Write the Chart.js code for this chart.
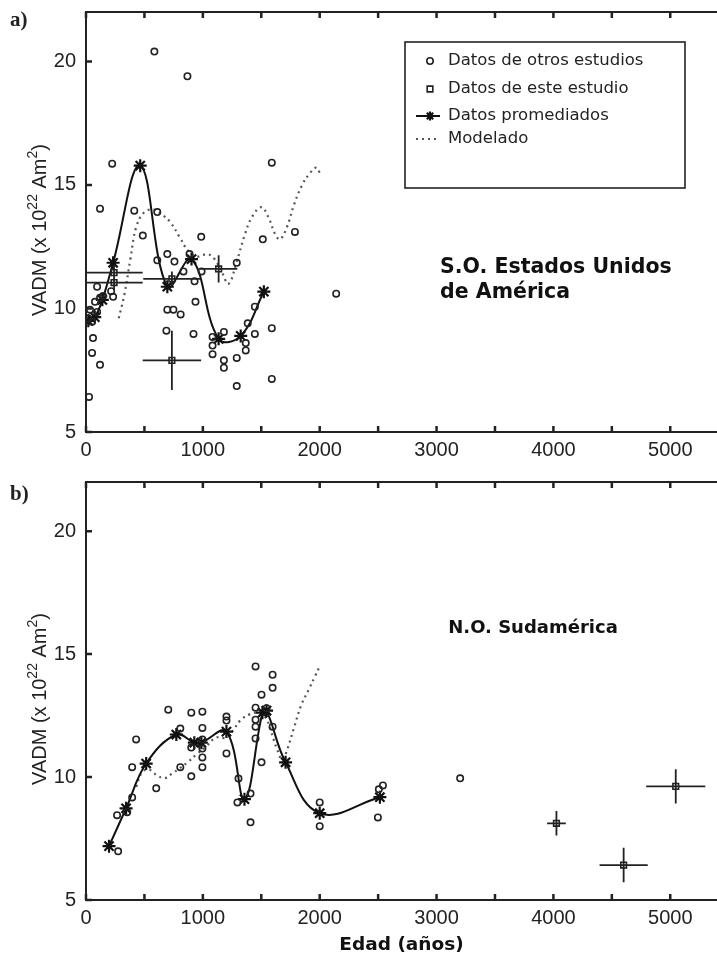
<!DOCTYPE html>
<html>
<head>
<meta charset="utf-8">
<script src="https://cdn.jsdelivr.net/npm/chart.js@4/dist/chart.umd.min.js"></script>
<style>
  body { margin: 0; background: #fff; width: 717px; height: 960px; position: relative; overflow: hidden; }
  .panel { position: absolute; left: 0; width: 717px; }
  #boxA { top: 0; height: 465px; }
  #boxB { top: 470px; height: 490px; }
  .tag { position: absolute; left: 10px; font: bold 21px "Liberation Serif", serif; color: #222; }
</style>
</head>
<body>
<div class="panel" id="boxA"><canvas id="chartA"></canvas></div>
<div class="panel" id="boxB"><canvas id="chartB"></canvas></div>
<div class="tag" style="top:7px">a)</div>
<div class="tag" style="top:481px">b)</div>
<script>
// axis ticks
const xLabels = [0, 1000, 2000, 3000, 4000, 5000];
const xMarks = [0, 500, 1000, 1500, 2000, 2500, 3000, 3500, 4000, 4500, 5000];
const yLabels = [5, 10, 15, 20];

const names = ["Datos de otros estudios", "Datos de este estudio", "Datos promediados", "Modelado"];
// y title pieces: [text, superscript?]
const yTitle = [["VADM (x 10", false], ["22", true], [" Am", false], ["2", true], [")", false]];

/* ------------------------------
   a) S.O. Estados Unidos
------------------------------- */
const otrosAX = [26, 52, 60, 120, 95, 215, 232, 17, 34, 52, 77, 95, 120, 146,
  224, 120, 413, 610, 585, 868, 1590, 486, 986, 1513, 1788,
  610, 696, 757, 886, 834, 989, 929, 1290, 696, 748, 810, 937, 1445, 688, 920,
  1083, 1083, 1083, 1180, 1180, 1180, 1290, 1290, 1367, 1367, 1384, 1445, 1590, 1590, 2141];
const otrosAY = [6.42, 8.2, 8.8, 7.72, 10.88, 10.7, 10.47, 9.6, 9.95, 9.46, 10.27, 9.86, 10.43, 10.5,
  15.86, 14.04, 13.96, 13.9, 20.4, 19.4, 15.9, 12.95, 12.9, 12.8, 13.1,
  11.95, 12.2, 11.9, 12.2, 11.5, 11.5, 11.1, 11.85, 9.95, 9.95, 9.76, 10.27, 10.07, 9.1, 8.97,
  8.85, 8.5, 8.15, 9.05, 7.9, 7.6, 8.0, 6.86, 8.6, 8.3, 9.4, 8.97, 9.2, 7.15, 10.6];

const esteAX = [240, 240, 735, 1135, 735];
const esteAY = [11.45, 11.05, 11.2, 11.6, 7.9];
const esteAXErr = [245, 245, 245, 160, 250];
const esteAYErr = [0.3, 0.3, 0.3, 0.55, 1.2];

const promAX = [20, 75, 140, 232, 464, 696, 903, 1135, 1324, 1522];
const promAY = [9.5, 9.65, 10.35, 11.85, 15.78, 10.88, 12.0, 8.77, 8.89, 10.68];

const modAX = [280, 330, 380, 430, 500, 580, 650, 720, 800, 880, 960, 1040, 1100, 1160, 1220,
  1290, 1360, 1420, 1500, 1560, 1620, 1660, 1720, 1780, 1850, 1920, 1970, 2000];
const modAY = [9.6, 10.6, 12.0, 13.3, 13.9, 14.0, 13.8, 13.5, 12.9, 12.3, 12.1, 12.2, 12.0, 11.5, 11.0,
  11.9, 13.0, 13.7, 14.1, 13.7, 13.0, 12.8, 13.3, 14.2, 15.0, 15.5, 15.7, 15.5];

/* ------------------------------
   b) N.O. Sudamérica
------------------------------- */
const otrosBX = [266, 275, 352, 395, 395, 429, 601, 704, 807, 807, 901, 901, 901,
  996, 996, 996, 996, 996, 996, 1202, 1202, 1202, 1305, 1296, 1408, 1408,
  1451, 1451, 1451, 1451, 1451, 1502, 1502, 1545, 1597, 1597, 1597, 2000, 2000, 2506, 2541, 2498, 3202];
const otrosBY = [8.45, 6.98, 8.57, 9.17, 10.4, 11.53, 9.54, 12.74, 11.97, 10.4, 12.62, 11.2, 10.03,
  12.66, 12.0, 11.53, 11.16, 10.8, 10.4, 12.46, 12.3, 10.96, 9.94, 8.97, 9.33, 8.16,
  14.5, 12.82, 12.33, 12.05, 11.57, 13.35, 10.6, 12.8, 14.16, 13.63, 12.05, 8.97, 8.0, 9.5, 9.66, 8.36, 9.95];

const esteBX = [4026, 4601, 5047];
const esteBY = [8.12, 6.42, 9.62];
const esteBXErr = [80, 206, 253];
const esteBYErr = [0.5, 0.7, 0.7];

const promBX = [197, 343, 515, 773, 927, 987, 1202, 1356, 1510, 1545, 1708, 2000, 2515];
const promBY = [7.19, 8.73, 10.55, 11.73, 11.4, 11.4, 11.85, 9.1, 12.62, 12.7, 10.6, 8.53, 9.18];

const modBX = [430, 480, 540, 600, 670, 740, 800, 870, 940, 1030, 1110, 1200, 1260, 1320, 1400,
  1480, 1540, 1580, 1630, 1680, 1720, 1780, 1840, 1910, 1960, 2000];
const modBY = [9.6, 10.2, 10.3, 10.1, 9.95, 10.15, 10.35, 10.6, 10.9, 11.25, 11.6, 11.6, 11.9, 12.3, 12.55,
  12.6, 12.4, 11.9, 11.2, 10.7, 11.1, 12.0, 12.9, 13.6, 14.1, 14.5];

const ink = "#222";
const pts = (xs, ys) => xs.map((x, i) => ({ x: x, y: ys[i] }));

// frame + inward ticks + y title with superscripts
const framePlugin = {
    id: "frame",
    afterDraw(chart) {
        const { ctx, chartArea: a, scales: { x, y } } = chart;
        ctx.save();
        ctx.strokeStyle = ink;
        ctx.lineWidth = 2;
        ctx.beginPath();
        ctx.moveTo(a.right, a.top); ctx.lineTo(a.left, a.top);
        ctx.lineTo(a.left, a.bottom); ctx.lineTo(a.right, a.bottom);
        ctx.stroke();
        ctx.lineWidth = 2.5;
        ctx.beginPath();
        xMarks.forEach(v => {
            const px = x.getPixelForValue(v);
            ctx.moveTo(px, a.bottom); ctx.lineTo(px, a.bottom - 6);
            ctx.moveTo(px, a.top); ctx.lineTo(px, a.top + 6);
        });
        yLabels.forEach(v => {
            const py = y.getPixelForValue(v);
            ctx.moveTo(a.left, py); ctx.lineTo(a.left + 6, py);
        });
        ctx.stroke();

        // rotated axis title
        const big = "20px 'Liberation Sans'", small = "14px 'Liberation Sans'";
        let total = 0;
        yTitle.forEach(([t, sup]) => { ctx.font = sup ? small : big; total += ctx.measureText(t).width; });
        ctx.translate(0, (a.top + a.bottom) / 2 + 8);
        ctx.rotate(-Math.PI / 2);
        ctx.fillStyle = ink;
        ctx.textBaseline = "alphabetic";
        let cx = -total / 2;
        yTitle.forEach(([t, sup]) => {
            ctx.font = sup ? small : big;
            ctx.fillText(t, cx, sup ? 37 : 46);
            cx += ctx.measureText(t).width;
        });
        ctx.restore();
    }
};

// error bars for "este estudio"
const errPlugin = {
    id: "errbars",
    afterDatasetsDraw(chart) {
        const { ctx, scales: { x, y } } = chart;
        chart.data.datasets.forEach(ds => {
            if (!ds.xErr) return;
            ctx.save();
            ctx.strokeStyle = ink;
            ctx.lineWidth = 1.8;
            ctx.beginPath();
            ds.data.forEach((p, i) => {
                const px = x.getPixelForValue(p.x), py = y.getPixelForValue(p.y);
                ctx.moveTo(x.getPixelForValue(p.x - ds.xErr[i]), py);
                ctx.lineTo(x.getPixelForValue(p.x + ds.xErr[i]), py);
                ctx.moveTo(px, y.getPixelForValue(p.y - ds.yErr[i]));
                ctx.lineTo(px, y.getPixelForValue(p.y + ds.yErr[i]));
            });
            ctx.stroke();
            ctx.restore();
        });
    }
};

// region names written inside the plot
const notePlugin = {
    id: "notes",
    afterDraw(chart, args, opts) {
        const { ctx, scales: { x, y } } = chart;
        ctx.save();
        ctx.fillStyle = "#111";
        ctx.textBaseline = "middle";
        (opts.lines || []).forEach(n => {
            ctx.font = "bold " + n.size + "px 'DejaVu Sans'";
            ctx.fillText(n.text, x.getPixelForValue(n.x), y.getPixelForValue(n.y));
        });
        ctx.restore();
    }
};

// boxed legend inside panel a
const boxLegend = {
    id: "boxLegend",
    afterDraw(chart, args, opts) {
        if (!opts.show) return;
        const ctx = chart.ctx;
        const L = 405, T = 42, W = 280, H = 146;
        const rows = [19, 47, 74, 97];
        ctx.save();
        ctx.strokeStyle = ink;
        ctx.lineWidth = 1.6;
        ctx.strokeRect(L, T, W, H);
        ctx.font = "16.5px 'DejaVu Sans'";
        ctx.textBaseline = "middle";
        chart.data.datasets.forEach((ds, i) => {
            const yy = T + rows[i], mx = 430;
            ctx.strokeStyle = ds.borderColor;
            ctx.fillStyle = "rgba(0,0,0,0)";
            if (ds.showLine) {
                ctx.lineWidth = ds.borderWidth;
                ctx.setLineDash(ds.borderDash || []);
                ctx.beginPath();
                ctx.moveTo(mx - 14, yy); ctx.lineTo(mx + 10, yy);
                ctx.stroke();
                ctx.setLineDash([]);
            }
            if (ds.pointRadius > 0) {
                ctx.lineWidth = ds.pointBorderWidth;
                Chart.helpers.drawPoint(ctx, { pointStyle: ds.pointStyle, radius: Math.min(ds.pointRadius, 4.5), borderWidth: ds.pointBorderWidth, rotation: 0 }, mx, yy);
            }
            ctx.fillStyle = "#222";
            ctx.fillText(ds.label, 448, yy);
        });
        ctx.restore();
    }
};

function panel(canvas, d, withLegend, notes, xTitle, axisH) {
    return new Chart(canvas, {
        type: "scatter",
        data: {
            datasets: [{
                label: names[0],
                data: pts(d.otrosX, d.otrosY),
                pointStyle: "circle",
                pointRadius: 3.2,
                pointBorderWidth: 1.6,
                borderColor: ink,
                backgroundColor: "rgba(0,0,0,0)"
            }, {
                label: names[1],
                data: pts(d.esteX, d.esteY),
                xErr: d.esteXErr,
                yErr: d.esteYErr,
                pointStyle: "rect",
                pointRadius: 4,
                pointBorderWidth: 1.6,
                borderColor: ink,
                backgroundColor: "rgba(0,0,0,0)"
            }, {
                label: names[2],
                data: pts(d.promX, d.promY),
                showLine: true,
                tension: 0.4,
                borderWidth: 2,
                borderColor: "#111",
                pointStyle: "star",
                pointRadius: 6.5,
                pointBorderWidth: 2.2,
                backgroundColor: "rgba(0,0,0,0)"
            }, {
                label: names[3],
                data: pts(d.modX, d.modY),
                showLine: true,
                tension: 0.4,
                borderWidth: 2.2,
                borderDash: [2, 4],
                borderColor: "#555",
                pointRadius: 0
            }]
        },
        options: {
            responsive: true,
            maintainAspectRatio: false,
            animation: false,
            events: [],
            layout: { autoPadding: false, padding: { top: 12, right: 0, left: 0, bottom: 0 } },
            plugins: {
                legend: { display: false },
                tooltip: { enabled: false },
                boxLegend: { show: withLegend },
                notes: { lines: notes }
            },
            scales: {
                x: {
                    type: "linear",
                    min: 0,
                    max: 5400,
                    afterBuildTicks: s => { s.ticks = xLabels.map(v => ({ value: v })); },
                    afterFit: s => { s.height = axisH; s.paddingLeft = 0; s.paddingRight = 0; },
                    grid: { display: false, drawTicks: false },
                    border: { display: false },
                    ticks: { color: ink, padding: 6, maxRotation: 0, autoSkip: false,
                        callback: v => String(v),
                        font: { family: "Liberation Sans", size: 20 } },
                    title: { display: !!xTitle, text: xTitle, color: "#111",
                        font: { family: "DejaVu Sans", size: 18.5, weight: "bold" },
                        padding: { top: 0, bottom: 4 } }
                },
                y: {
                    min: 5,
                    max: 22,
                    afterBuildTicks: s => { s.ticks = yLabels.map(v => ({ value: v })); },
                    afterFit: s => { s.width = 86; s.paddingTop = 0; s.paddingBottom = 0; },
                    grid: { display: false, drawTicks: false },
                    border: { display: false },
                    ticks: { color: ink, padding: 10, font: { family: "Liberation Sans", size: 20 } },
                    title: { display: false }
                }
            }
        },
        plugins: [framePlugin, errPlugin, notePlugin, boxLegend]
    });
}

panel(chartA, {
    otrosX: otrosAX, otrosY: otrosAY,
    esteX: esteAX, esteY: esteAY, esteXErr: esteAXErr, esteYErr: esteAYErr,
    promX: promAX, promY: promAY, modX: modAX, modY: modAY
}, true, [
    { text: "S.O. Estados Unidos", x: 3030, y: 11.65, size: 20.5 },
    { text: "de América", x: 3030, y: 10.63, size: 20.5 }
], "", 33);

panel(chartB, {
    otrosX: otrosBX, otrosY: otrosBY,
    esteX: esteBX, esteY: esteBY, esteXErr: esteBXErr, esteYErr: esteBYErr,
    promX: promBX, promY: promBY, modX: modBX, modY: modBY
}, false, [
    { text: "N.O. Sudamérica", x: 3100, y: 16.03, size: 18 }
], "Edad (años)", 60);
</script>
</body>
</html>
